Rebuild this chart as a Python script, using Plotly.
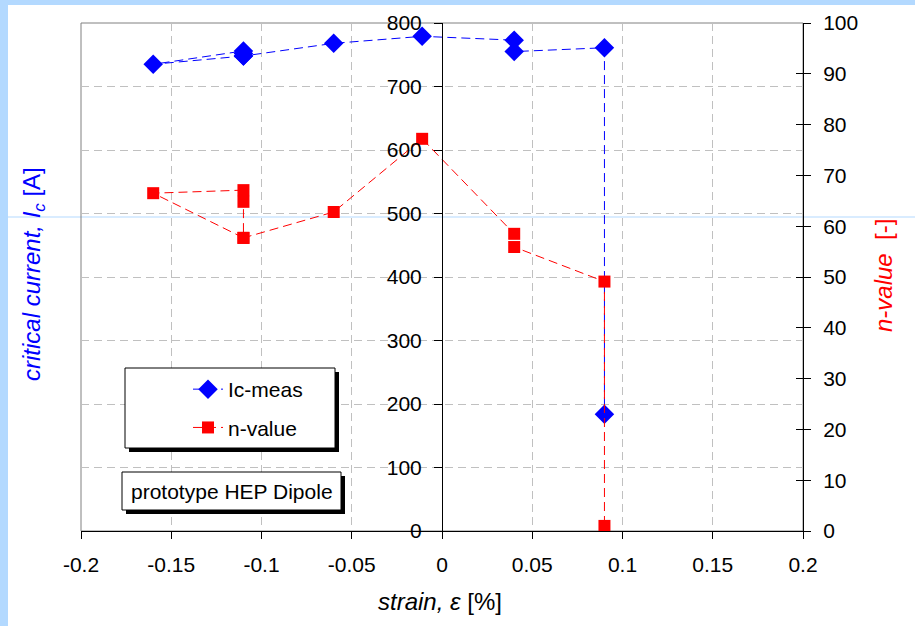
import plotly.graph_objects as go

# ---- data ----
strain = [-0.11, -0.16, -0.11, -0.11, -0.11, -0.06, -0.011, 0.04, 0.04, 0.09, 0.09]
ic_meas = [748, 735, 756, 752, 748, 768, 779, 773, 755, 761, 184]
n_value = [57.7, 66.5, 67.1, 64.8, 57.7, 62.8, 77.2, 58.5, 55.9, 49.1, 1.0]

x_ticks = [-0.2, -0.15, -0.1, -0.05, 0, 0.05, 0.1, 0.15, 0.2]
x_ticktext = ["-0.2", "-0.15", "-0.1", "-0.05", "0", "0.05", "0.1", "0.15", "0.2"]

# ---- layout geometry (pixels) ----
W, H = 915, 626
L, R, T, B = 81, 803, 23, 531


def px(x):
    return (x - L) / (R - L)


def py(y):
    return (B - y) / (B - T)


FONT = "Liberation Sans, Arial, sans-serif"
BLUE = "#0000FF"
RED = "#FF0000"
BG = "#B3D9FF"

fig = go.Figure()
fig.add_trace(go.Scatter(
    x=strain, y=ic_meas, name="Ic-meas", mode="lines+markers",
    line=dict(color=BLUE, width=1, dash="9px,5px"),
    marker=dict(symbol="diamond", size=15, color=BLUE),
    yaxis="y", legendgroup="a"))
fig.add_trace(go.Scatter(
    x=strain, y=n_value, name="n-value", mode="lines+markers",
    line=dict(color=RED, width=1, dash="9px,5px"),
    marker=dict(symbol="square", size=12, color=RED),
    yaxis="y2", legendgroup="b"))

shapes = [
    # white panel
    dict(type="rect", xref="paper", yref="paper", x0=px(8), x1=px(W + 5), y0=py(H + 5), y1=py(5),
         fillcolor="white", line=dict(width=0), layer="below"),
    # light blue artefact line
    dict(type="line", xref="paper", yref="paper", x0=px(0), x1=px(W), y0=py(217), y1=py(217),
         line=dict(color=BG, width=1), layer="below"),
    # plot border
    dict(type="rect", xref="paper", yref="paper", x0=0, x1=1, y0=0, y1=1,
         line=dict(color="#808080", width=1), layer="below"),
    # legend shadow + box
    dict(type="rect", xref="paper", yref="paper", x0=px(129), x1=px(339), y0=py(452), y1=py(372),
         fillcolor="black", line=dict(width=0), layer="above"),
    dict(type="rect", xref="paper", yref="paper", x0=px(125), x1=px(335), y0=py(448), y1=py(368),
         fillcolor="white", line=dict(color="black", width=1), layer="above"),
    # label shadow + box
    dict(type="rect", xref="paper", yref="paper", x0=px(126), x1=px(345), y0=py(514), y1=py(476),
         fillcolor="black", line=dict(width=0), layer="above"),
    dict(type="rect", xref="paper", yref="paper", x0=px(122), x1=px(341), y0=py(510), y1=py(472),
         fillcolor="white", line=dict(color="black", width=1), layer="above"),
]

annotations = [
    dict(text="prototype HEP Dipole", xref="paper", yref="paper", x=px(232), y=py(491),
         showarrow=False, font=dict(family=FONT, size=21, color="black"),
         xanchor="center", yanchor="middle"),
    dict(text="<i>critical current, I<sub>c</sub></i> [A]", xref="paper", yref="paper",
         x=px(33), y=py(274), showarrow=False, textangle=-90,
         font=dict(family=FONT, size=24, color=BLUE), xanchor="center", yanchor="middle"),
    dict(text="<i>n-value</i>  [-]", xref="paper", yref="paper",
         x=px(883), y=py(276), showarrow=False, textangle=-90,
         font=dict(family=FONT, size=24, color=RED), xanchor="center", yanchor="middle"),
    dict(text="<i>strain, </i><i>\u03b5</i> [%]", xref="paper", yref="paper",
         x=px(440), y=py(601), showarrow=False,
         font=dict(family=FONT, size=24, color="black"), xanchor="center", yanchor="middle"),
]

grid = dict(showgrid=True, gridcolor="#C0C0C0", griddash="8px,5px", gridwidth=1)

fig.update_layout(
    width=W, height=H,
    margin=dict(l=L, r=W - R, t=T, b=H - B, pad=0),
    paper_bgcolor=BG, plot_bgcolor="rgba(0,0,0,0)",
    font=dict(family=FONT, size=21, color="black"),
    shapes=shapes, annotations=annotations,
    showlegend=True,
    legend=dict(x=px(188), y=py(369), xanchor="left", yanchor="top",
                bgcolor="rgba(0,0,0,0)", borderwidth=0,
                font=dict(family=FONT, size=21, color="black"),
                traceorder="grouped", tracegroupgap=8),
    xaxis=dict(range=[-0.2, 0.2], tickvals=x_ticks, ticktext=x_ticktext,
               showline=True, linecolor="black", linewidth=1,
               ticks="outside", ticklen=7, tickcolor="black",
               zeroline=False, domain=[0, 1], tickfont=dict(size=21),
               ticklabelstandoff=8, **grid),
    yaxis=dict(range=[0, 800], dtick=100, anchor="free", position=0.5,
               showline=True, linecolor="black", linewidth=1,
               ticks="outside", ticklen=8, tickcolor="black",
               zeroline=False, tickfont=dict(size=21), ticklabelstandoff=8, **grid),
    yaxis2=dict(range=[0, 100], dtick=10, overlaying="y", side="right", anchor="x",
                showline=True, linecolor="black", linewidth=1,
                ticks="outside", ticklen=7, tickcolor="black",
                showgrid=False, zeroline=False, tickfont=dict(size=21), ticklabelstandoff=8),
    yaxis3=dict(range=[0, 100], dtick=10, overlaying="y", side="right", anchor="x",
                showline=False, ticks="inside", ticklen=7, tickcolor="black",
                showticklabels=False, showgrid=False, zeroline=False),
)

# invisible trace so yaxis3 (inside ticks of the right axis) is drawn
fig.add_trace(go.Scatter(x=[None], y=[None], yaxis="y3", showlegend=False, hoverinfo="skip"))

fig.write_html("out.html")
